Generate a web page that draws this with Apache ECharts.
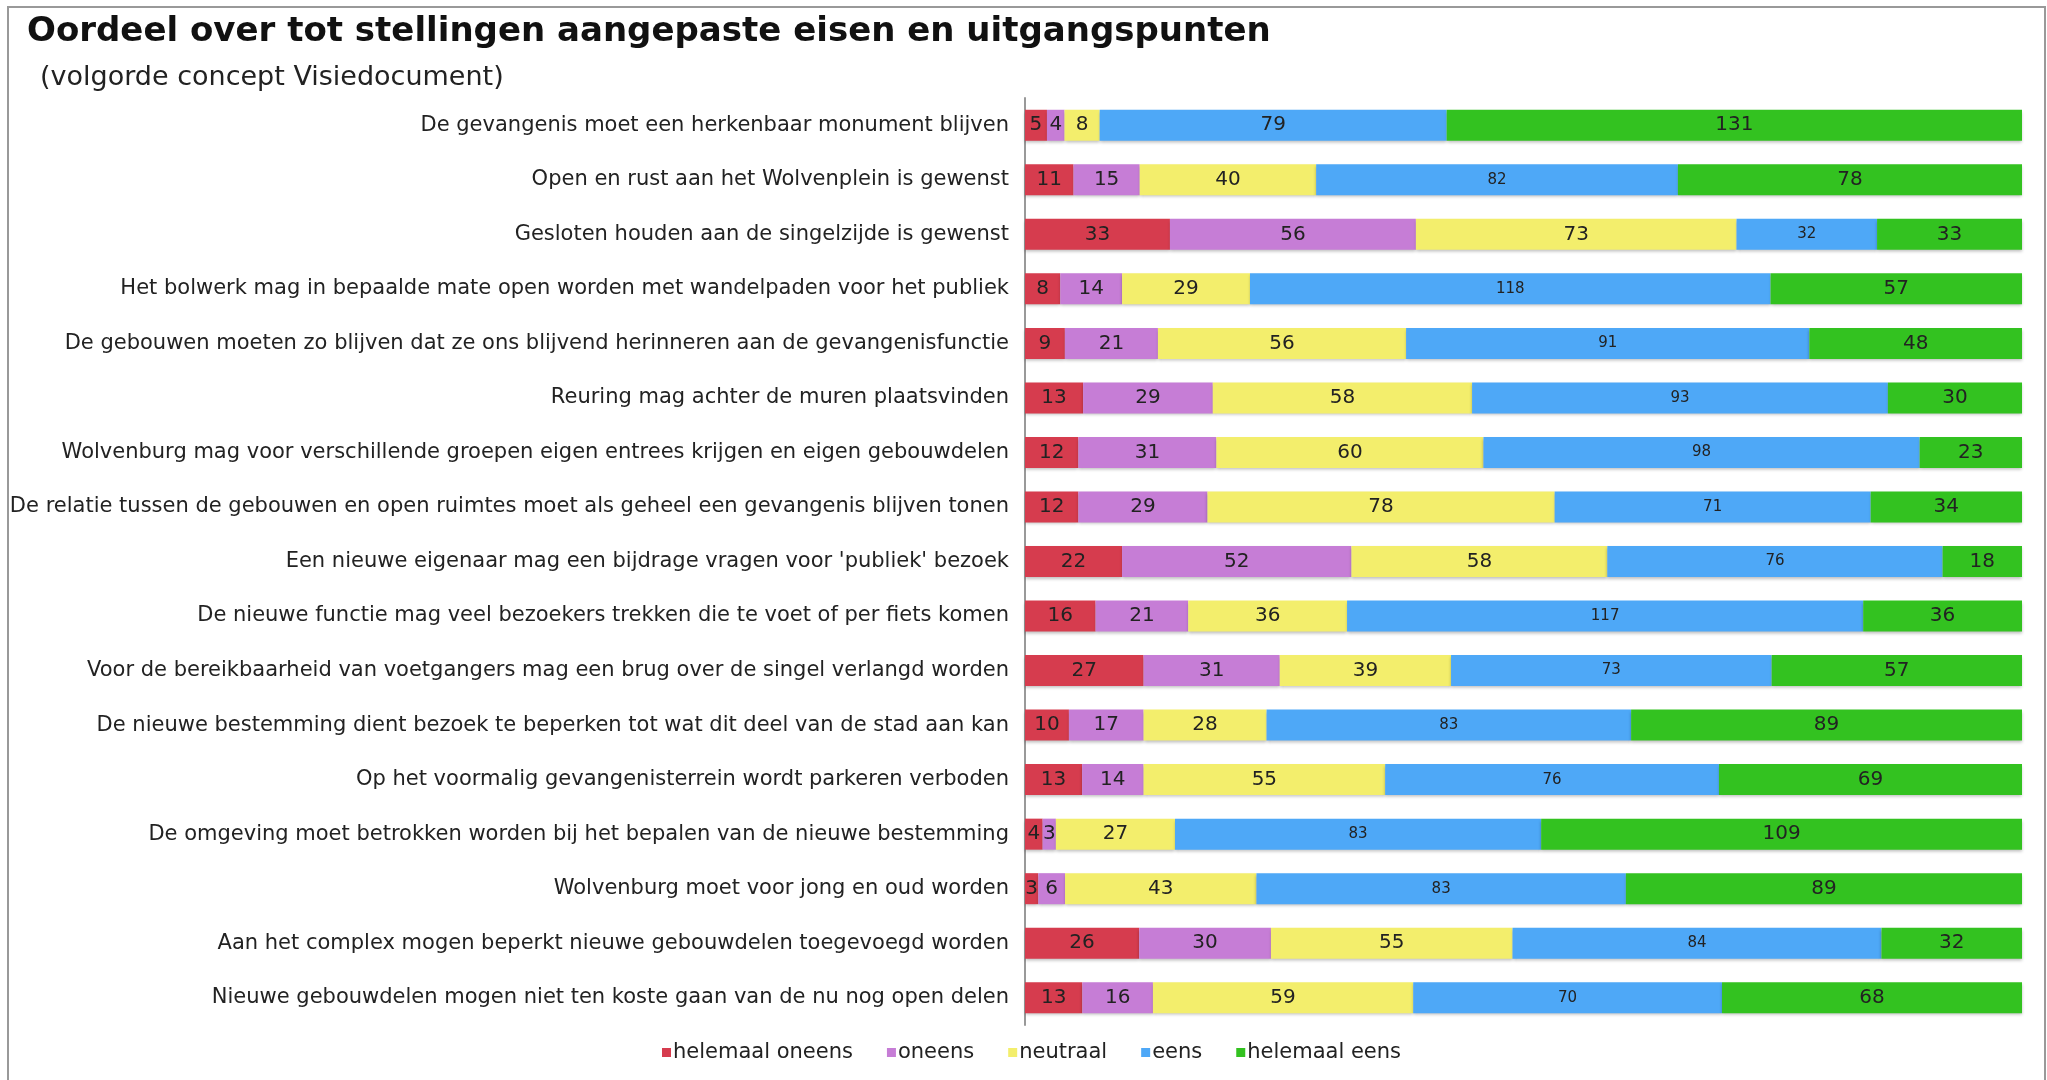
<!DOCTYPE html>
<html>
<head>
<meta charset="utf-8">
<script src="https://cdn.jsdelivr.net/npm/echarts@6/dist/echarts.min.js"></script>
<style>
html, body { margin: 0; padding: 0; background: #fff; }
#chart { width: 2047px; height: 1080px; }
</style>
</head>
<body>
<div id="chart"></div>
<script>
var categories = [
	"De gevangenis moet een herkenbaar monument blijven",
	"Open en rust aan het Wolvenplein is gewenst",
	"Gesloten houden aan de singelzijde is gewenst",
	"Het bolwerk mag in bepaalde mate open worden met wandelpaden voor het publiek",
	"De gebouwen moeten zo blijven dat ze ons blijvend herinneren aan de gevangenisfunctie",
	"Reuring mag achter de muren plaatsvinden",
	"Wolvenburg mag voor verschillende groepen eigen entrees krijgen en eigen gebouwdelen",
	"De relatie tussen de gebouwen en open ruimtes moet als geheel een gevangenis blijven tonen",
	"Een nieuwe eigenaar mag een bijdrage vragen voor 'publiek' bezoek",
	"De nieuwe functie mag veel bezoekers trekken die te voet of per fiets komen",
	"Voor de bereikbaarheid van voetgangers mag een brug over de singel verlangd worden",
	"De nieuwe bestemming dient bezoek te beperken tot wat dit deel van de stad aan kan",
	"Op het voormalig gevangenisterrein wordt parkeren verboden",
	"De omgeving moet betrokken worden bij het bepalen van de nieuwe bestemming",
	"Wolvenburg moet voor jong en oud worden",
	"Aan het complex mogen beperkt nieuwe gebouwdelen toegevoegd worden",
	"Nieuwe gebouwdelen mogen niet ten koste gaan van de nu nog open delen"
];
var helemaalOneens = [5, 11, 33, 8, 9, 13, 12, 12, 22, 16, 27, 10, 13, 4, 3, 26, 13];
var oneens = [4, 15, 56, 14, 21, 29, 31, 29, 52, 21, 31, 17, 14, 3, 6, 30, 16];
var neutraal = [8, 40, 73, 29, 56, 58, 60, 78, 58, 36, 39, 28, 55, 27, 43, 55, 59];
var eens = [79, 82, 32, 118, 91, 93, 98, 71, 76, 117, 73, 83, 76, 83, 83, 84, 70];
var helemaalEens = [131, 78, 33, 57, 48, 30, 23, 34, 18, 36, 57, 89, 69, 109, 89, 32, 68];

var seriesNames = ["helemaal oneens", "oneens", "neutraal", "eens", "helemaal eens"];
var seriesValues = [helemaalOneens, oneens, neutraal, eens, helemaalEens];
var colors = ["#d63c4e", "#c67dd6", "#f3ee6c", "#4ea8f7", "#33c220"];

var totals = categories.map(function(c, i) {
	var s = 0;
	for (var k = 0; k < seriesValues.length; k++) s += seriesValues[k][i];
	return s;
});

var myChart = echarts.init(document.getElementById("chart"));

var series = seriesValues.map(function(vals, k) {
	return {
		name: seriesNames[k],
		type: 'bar',
		stack: 'total',
		barWidth: 31,
		itemStyle: {
			color: colors[k],
			shadowColor: 'rgba(0,0,0,0.25)',
			shadowBlur: 3,
			shadowOffsetY: 2
		},
		label: {
			show: true,
			position: 'inside',
			color: '#222',
			fontFamily: 'DejaVu Sans',
			fontSize: k == 3 ? 15 : 20,
			formatter: function(p) {
				return vals[p.dataIndex];
			}
		},
		data: vals.map(function(v, i) {
			var item = { value: v / totals[i] * 100 };
			// eerste rij heeft grotere label in blauw
			if (k == 3 && i == 0) item.label = { fontSize: 20 };
			return item;
		})
	};
});

myChart.setOption({
	animation: false,
	backgroundColor: '#fff',
	color: colors,
	title: [{
		text: 'Oordeel over tot stellingen aangepaste eisen en uitgangspunten',
		left: 22,
		top: 10,
		textStyle: {
			fontFamily: 'DejaVu Sans',
			fontWeight: 'bold',
			fontSize: 34,
			color: '#111'
		}
	}, {
		text: '(volgorde concept Visiedocument)',
		left: 35,
		top: 59,
		textStyle: {
			fontFamily: 'DejaVu Sans',
			fontWeight: 'normal',
			fontSize: 27,
			color: '#222'
		}
	}],
	legend: {
		left: 662,
		top: 1042,
		padding: 0,
		itemWidth: 9,
		itemHeight: 9,
		itemGap: 34,
		icon: 'rect',
		textStyle: {
			fontFamily: 'DejaVu Sans',
			fontSize: 21,
			color: '#222',
			padding: [0, 0, 0, -3]
		},
		data: seriesNames
	},
	grid: {
		left: 1025,
		right: 25,
		top: 98,
		bottom: 55
	},
	xAxis: {
		type: 'value',
		min: 0,
		max: 100,
		show: false
	},
	yAxis: {
		type: 'category',
		inverse: true,
		data: categories,
		axisLine: {
			lineStyle: { color: '#999', width: 2 }
		},
		axisTick: { show: false },
		axisLabel: {
			fontFamily: 'DejaVu Sans',
			fontSize: 21,
			color: '#222',
			margin: 16
		}
	},
	graphic: [{
		type: 'rect',
		shape: { x: 8, y: 7, width: 2037, height: 1090 },
		style: { fill: null, stroke: '#999', lineWidth: 2 },
		silent: true,
		z: -1
	}],
	series: series
});
</script>
</body>
</html>
